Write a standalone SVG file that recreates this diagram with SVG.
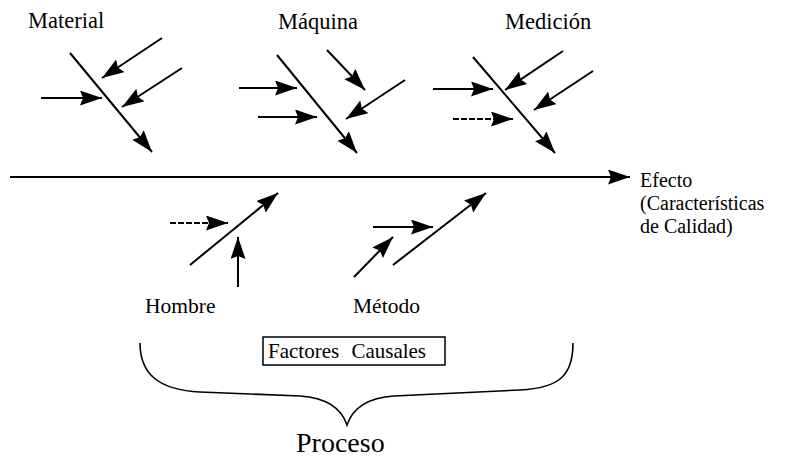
<svg xmlns="http://www.w3.org/2000/svg" width="792" height="458" viewBox="0 0 792 458">
<defs>
<marker id="ah" markerUnits="userSpaceOnUse" markerWidth="24" markerHeight="16" refX="22" refY="7.5" orient="auto">
<path d="M0,0 L22,7.5 L0,15 L3,7.5 z" fill="#000"/>
</marker>
<style>
text{font-family:'Liberation Serif','DejaVu Serif',serif;fill:#000}
.t{font-size:22.5px}
.b{font-size:21.5px}
.s{font-size:20px}
.f{font-size:21px;word-spacing:7px}
.p{font-size:28px}
.a{stroke:#000;stroke-width:2;fill:none;marker-end:url(#ah)}
.d{stroke-dasharray:6 2}
</style>
</defs>
<rect width="792" height="458" fill="#fff"/>
<g id="connectors">
<line class="a" x1="10" y1="177" x2="630" y2="177"/>
</g>
<g id="material">
<text class="t" x="28" y="28" font-family="Liberation Serif, serif">Material</text>
<line class="a" x1="70" y1="53" x2="152" y2="152"/>
<line class="a" x1="162" y1="38" x2="102" y2="78"/>
<line class="a" x1="182" y1="68" x2="122" y2="107"/>
<line class="a" x1="41" y1="98" x2="102" y2="98"/>
</g>
<g id="maquina">
<text class="t" x="278" y="29" font-family="Liberation Serif, serif">Máquina</text>
<line class="a" x1="277" y1="55" x2="357" y2="153"/>
<line class="a" x1="327" y1="50" x2="365" y2="90"/>
<line class="a" x1="405" y1="80" x2="346" y2="119"/>
<line class="a" x1="239" y1="88" x2="297" y2="88"/>
<line class="a" x1="258" y1="117" x2="317" y2="117"/>
</g>
<g id="medicion">
<text class="t" x="505" y="29" font-family="Liberation Serif, serif">Medición</text>
<line class="a" x1="473" y1="57" x2="555" y2="153"/>
<line class="a" x1="563" y1="51" x2="505" y2="90"/>
<line class="a" x1="593" y1="71" x2="534" y2="110"/>
<line class="a" x1="433" y1="89" x2="493" y2="89"/>
<line class="a d" x1="453" y1="119" x2="513" y2="119"/>
</g>
<g id="efecto">
<text class="s" x="640" y="187" font-family="Liberation Serif, serif">Efecto</text>
<text class="s" x="640" y="210" font-family="Liberation Serif, serif">(Características</text>
<text class="s" x="640" y="233" font-family="Liberation Serif, serif">de Calidad)</text>
</g>
<g id="hombre">
<line class="a" x1="190" y1="265" x2="278" y2="193"/>
<line class="a d" x1="170" y1="223" x2="228" y2="223" stroke-width="1.5"/>
<line class="a" x1="238" y1="287" x2="238" y2="237"/>
<text class="b" x="145" y="313" font-family="Liberation Serif, serif">Hombre</text>
</g>
<g id="metodo">
<line class="a" x1="393" y1="265" x2="486" y2="193"/>
<line class="a" x1="354" y1="277" x2="393" y2="237"/>
<line class="a" x1="373" y1="227" x2="433" y2="227"/>
<text class="b" x="353" y="313" font-family="Liberation Serif, serif">Método</text>
</g>
<g id="factores">
<rect x="263" y="337" width="182" height="28" fill="none" stroke="#000" stroke-width="1.5"/>
<text class="f" x="268" y="358" font-family="Liberation Serif, serif">Factores Causales</text>
</g>
<g id="proceso">
<path d="M140,343 C140,375 160,390 200,392 L300,396 C330,398 342,410 347,425 C352,410 364,398 394,396 L520,390 C560,388 573,375 573,343" fill="none" stroke="#000" stroke-width="1.6"/>
<text class="p" x="296" y="452" font-family="Liberation Serif, serif">Proceso</text>
</g>
</svg>
